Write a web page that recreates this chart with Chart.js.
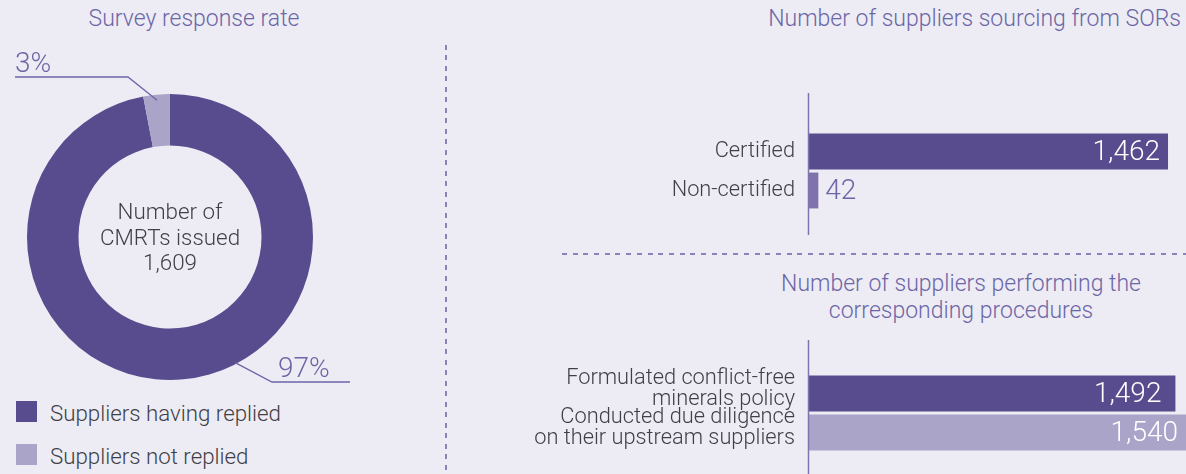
<!DOCTYPE html>
<html><head><meta charset="utf-8">
<script src="https://cdn.jsdelivr.net/npm/chart.js@4/dist/chart.umd.min.js"></script>
<style>
html,body{margin:0;padding:0;background:#edecf4;width:1186px;height:474px;overflow:hidden;font-family:Roboto,"Liberation Sans",sans-serif;font-weight:300;}
.abs{position:absolute;}
.title{color:#6c66a6;font-size:23px;white-space:nowrap;}
.leg{color:#3f3f46;font-size:22.3px;white-space:nowrap;}
.sw{position:absolute;width:21px;height:21px;}
#vdash{position:absolute;left:445px;top:45px;height:429px;width:2px;background:repeating-linear-gradient(to bottom,#8a82b8 0 5px,transparent 5px 10.5px);}
#hdash{position:absolute;left:562px;top:253px;width:624px;height:2px;background:repeating-linear-gradient(to right,#8a82b8 0 5px,transparent 5px 10.7px);}
</style></head>
<body>
<div class="abs title" style="left:0;width:388px;text-align:center;top:5px;">Survey response rate</div>
<div class="abs title" style="left:700px;width:481px;text-align:right;top:5px;">Number of suppliers sourcing from SORs</div>
<div class="abs title" style="left:760px;width:402px;text-align:center;top:270px;line-height:27px;">Number of suppliers performing the<br>corresponding procedures</div>
<div id="vdash"></div>
<div id="hdash"></div>
<div class="sw" style="left:16px;top:401px;background:#584c8e;"></div>
<div class="abs leg" style="left:50px;top:400px;">Suppliers having replied</div>
<div class="sw" style="left:16px;top:444px;background:#aaa4c9;"></div>
<div class="abs leg" style="left:50px;top:443px;">Suppliers not replied</div>
<canvas id="donut" class="abs" style="left:0;top:40px;" width="446" height="360"></canvas>
<canvas id="bar1" class="abs" style="left:500px;top:85px;" width="686" height="155"></canvas>
<canvas id="bar2" class="abs" style="left:500px;top:335px;" width="686" height="139"></canvas>
<script>
// ---- data ----
const surveyLabels = ['Suppliers having replied', 'Suppliers not replied'];
const surveyValues = [97, 3];
const surveyPctText = ['97%', '3%'];
const centerLines = ['Number of', 'CMRTs issued', '1,609'];

const sorCategories = ['Certified', 'Non-certified'];
const sorValues = [1462, 42];

const procCategories = [['Formulated conflict-free', 'minerals policy'], ['Conducted due diligence', 'on their upstream suppliers']];
const procValues = [1492, 1540];

const xMax = 1535;

// ---- styles ----
const DARK = '#584c8e', LIGHT = '#aaa4c9', MID = '#8070ab', PURPLE_TXT = '#6c66a6', GREY_TXT = '#3f3f46';
const FONT = 'Roboto, "Liberation Sans", sans-serif';

// ---- doughnut ----
const donutPlugin = {
  id: 'donutExtras',
  afterDraw(chart) {
    const ctx = chart.ctx;
    const meta = chart.getDatasetMeta(0);
    const a0 = meta.data[0];
    const cx = a0.x, cy = a0.y, R = a0.outerRadius;
    ctx.save();
    ctx.fillStyle = GREY_TXT;
    ctx.font = '300 22.4px ' + FONT;
    ctx.textAlign = 'center';
    ctx.textBaseline = 'middle';
    centerLines.forEach((t, i) => ctx.fillText(t, cx, cy + 2 + (i - 1) * 25.5));
    const cfg = [
      {frac: 0.437, rf: 0.99, elbow: [102, 145], endDx: 78, txtDx: 6},
      {frac: 0.5, rf: 0.96, elbow: [-42, -160], endDx: -113, txtDx: 0}
    ];
    ctx.strokeStyle = '#6c66a6';
    ctx.lineWidth = 1.3;
    meta.data.forEach((arc, i) => {
      const c = cfg[i];
      const ang = arc.startAngle + (arc.endAngle - arc.startAngle) * c.frac;
      const sx = cx + Math.cos(ang) * R * c.rf, sy = cy + Math.sin(ang) * R * c.rf;
      const ex = cx + c.elbow[0], ey = cy + c.elbow[1];
      const fx = ex + c.endDx;
      ctx.beginPath();
      ctx.moveTo(sx, sy); ctx.lineTo(ex, ey); ctx.lineTo(fx, ey);
      ctx.stroke();
      ctx.fillStyle = PURPLE_TXT;
      ctx.font = '300 28px ' + FONT;
      ctx.textAlign = 'left';
      ctx.textBaseline = 'alphabetic';
      const tx = (c.endDx > 0 ? ex : fx) + c.txtDx;
      ctx.fillText(surveyPctText[i], tx, ey - 5);
    });
    ctx.restore();
  }
};

new Chart(document.getElementById('donut'), {
  type: 'doughnut',
  data: { labels: surveyLabels, datasets: [{ data: surveyValues, backgroundColor: [DARK, LIGHT], borderWidth: 0 }] },
  options: {
    responsive: false, animation: false, cutout: '64%',
    layout: { padding: { left: 27, right: 133, top: 54, bottom: 20 } },
    plugins: { legend: { display: false }, tooltip: { enabled: false } }
  },
  plugins: [donutPlugin]
});

// ---- bars ----
const barPlugin = {
  id: 'barExtras',
  afterDraw(chart) {
    const ctx = chart.ctx;
    const o = chart.options.plugins.barExtras;
    const area = chart.chartArea;
    ctx.save();
    ctx.strokeStyle = '#7d76ae';
    ctx.lineWidth = 1.5;
    ctx.beginPath();
    ctx.moveTo(area.left + 0.5, o.axisTop);
    ctx.lineTo(area.left + 0.5, o.axisBottom);
    ctx.stroke();
    const meta = chart.getDatasetMeta(0);
    const vals = chart.data.datasets[0].data;
    ctx.font = '300 28px ' + FONT;
    ctx.textBaseline = 'middle';
    meta.data.forEach((bar, i) => {
      const txt = vals[i].toLocaleString('en-US');
      if (o.inside[i]) {
        ctx.fillStyle = '#ffffff';
        ctx.textAlign = 'right';
        const xEnd = Math.min(bar.x, area.right);
        ctx.fillText(txt, xEnd - o.gap[i], bar.y + 1);
      } else {
        ctx.fillStyle = PURPLE_TXT;
        ctx.textAlign = 'left';
        ctx.fillText(txt, bar.x + 7, bar.y + 1);
      }
    });
    ctx.restore();
  }
};

function barChart(id, cats, vals, colors, pad, axisTop, axisBottom, inside, gap, lh, lo) {
  return new Chart(document.getElementById(id), {
    type: 'bar',
    data: { labels: cats, datasets: [{ data: vals, backgroundColor: colors, borderWidth: 0, categoryPercentage: 1, barPercentage: 0.92 }] },
    options: {
      indexAxis: 'y', responsive: false, animation: false,
      layout: { padding: pad },
      scales: {
        x: { display: false, min: 0, max: xMax },
        y: {
          grid: { display: false, drawTicks: false },
          border: { display: false },
          ticks: { autoSkip: false, labelOffset: lo, color: GREY_TXT, font: { family: FONT, size: 21.8, weight: 300, lineHeight: lh }, padding: 13 },
          afterFit(s) { s.width = 308; s.paddingTop = 0; s.paddingBottom = 0; }
        }
      },
      plugins: { legend: { display: false }, tooltip: { enabled: false }, barExtras: { axisTop, axisBottom, inside, gap } }
    },
    plugins: [barPlugin]
  });
}

barChart('bar1', sorCategories, sorValues, [DARK, MID], { top: 47, bottom: 30, left: 0, right: 0 }, 8, 150, [true, false], [8, 0], 1.2, 0);
barChart('bar2', procCategories, procValues, [DARK, LIGHT], { top: 39, bottom: 22, left: 0, right: 0 }, 5, 139, [true, true], [14, 8], 0.963, -4);
</script>
</body></html>
